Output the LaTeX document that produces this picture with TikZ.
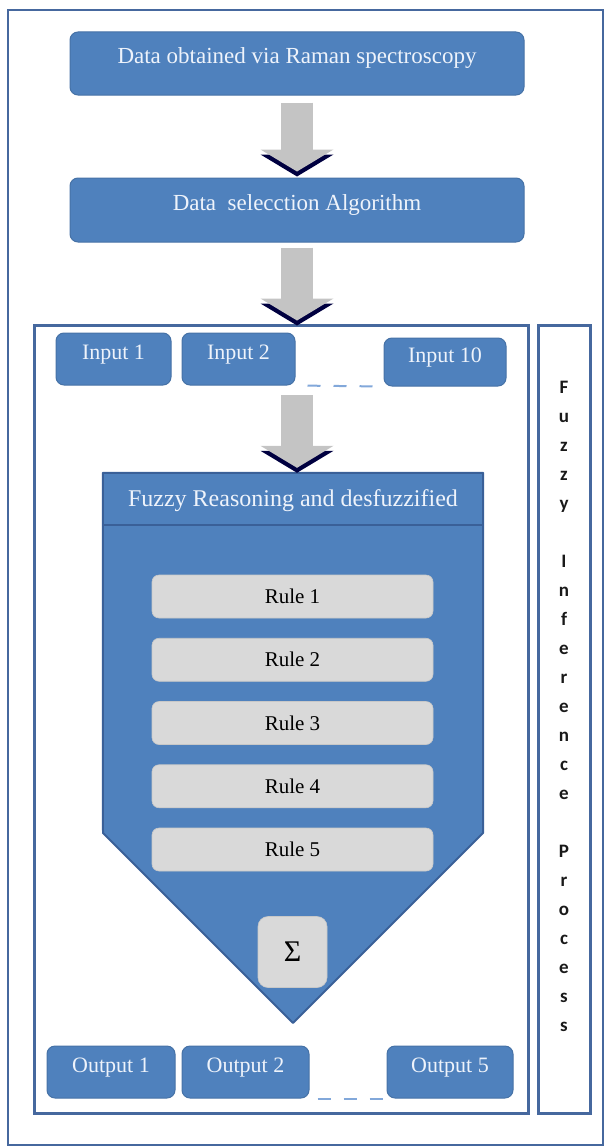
\documentclass[tikz,border=0pt]{standalone}
\usepackage{fontspec}
\setmainfont{Liberation Serif}
\newfontfamily\sidefont{Carlito}
\usetikzlibrary{positioning,arrows.meta}
\definecolor{boxblue}{RGB}{79,129,189}
\definecolor{edgeblue}{RGB}{58,96,152}
\definecolor{frameblue}{RGB}{70,104,158}
\definecolor{rulegray}{RGB}{217,217,217}
\definecolor{arrowgray}{RGB}{196,196,196}
\definecolor{paleblue}{RGB}{238,243,251}
\definecolor{dashblue}{RGB}{130,168,218}

\begin{document}
\begin{tikzpicture}
    [x=1pt,y=-1pt,
     bluebox/.style={draw=boxblue!88!black, line width=1pt, fill=boxblue, rounded corners=8pt, text=paleblue, inner sep=0pt, text height=9pt, text depth=9pt},
     rulebox/.style={draw=rulegray!92!black, line width=0.6pt, fill=rulegray, rounded corners=7pt, minimum width=281pt, minimum height=43pt, inner sep=0pt, font=\fontsize{21}{24}\selectfont},
     framebox/.style={draw=frameblue, line width=3pt, inner sep=0pt},
     dashline/.style={draw=dashblue, line width=2pt, dash pattern=on 13pt off 13pt},
     blockarrow/.style={draw=arrowgray, line width=32pt, -{Triangle[width=73pt,length=22pt,line width=0pt]}},
     arrowshadow/.style={draw=black!75!blue, line width=32pt, -{Triangle[width=73pt,length=22pt,line width=0pt]}}]
  \useasboundingbox (0,0) rectangle (607,1148);

  % frames
  \node[framebox, line width=2.5pt, minimum width=595pt, minimum height=1135pt] (outer) at (305.5,577.5) {};
  \node[framebox, minimum width=494pt, minimum height=788pt] (inner) at (281,719) {};
  \node[framebox, minimum width=52pt, minimum height=788pt] (side) at (564,719) {};

  % top boxes
  \node[bluebox, minimum width=454pt, minimum height=63pt, font=\fontsize{23}{26}\selectfont] (n1) at (297,63.5) {Data obtained via Raman spectroscopy};
  \node[bluebox, minimum width=454pt, minimum height=64pt, font=\fontsize{23}{26}\selectfont] (n2) at (297,210) {Data\ \ selecction Algorithm};

  % inputs
  \node[bluebox, minimum width=115pt, minimum height=52pt, font=\fontsize{22}{24}\selectfont] (in1) at (113.5,359) {Input 1};
  \node[bluebox, minimum width=113pt, minimum height=52pt, font=\fontsize{22}{24}\selectfont] (in2) at (238.5,359) {Input 2};
  \node[bluebox, minimum width=122pt, minimum height=48pt, font=\fontsize{22}{24}\selectfont] (in10) at (445,362) {Input 10};
  \draw[dashline, shorten <=12pt, shorten >=10pt] (in2.south east) -- (in10.south west);

  % fuzzy reasoning block
  \node[minimum width=380pt, minimum height=52pt, inner sep=0pt] (fr) at (293,499) {};
  \draw[draw=edgeblue, line width=2pt, fill=boxblue, line join=round] (fr.north west) -- (fr.north east) -- (483,833) -- (293,1023) -- (103,833) -- cycle;
  \draw[draw=edgeblue, line width=2.5pt] (fr.south west) -- (fr.south east);
  \node[text=paleblue, inner sep=0pt, text depth=2pt, font=\fontsize{24}{26}\selectfont] (frtext) at (fr.center) {Fuzzy Reasoning and desfuzzified};

  \foreach \i in {1,...,5}
    \node[rulebox] (r\i) at (292.5,{596.5+63.25*(\i-1)}) {Rule \i};

  \node[rulebox, minimum width=69pt, minimum height=71pt, rounded corners=10pt, font=\fontsize{30}{32}\selectfont] (sum) at (292.5,952) {Σ};

  % outputs
  \node[bluebox, minimum width=128pt, minimum height=52pt, font=\fontsize{22}{24}\selectfont] (out1) at (111,1072) {Output 1};
  \node[bluebox, minimum width=127pt, minimum height=52pt, font=\fontsize{22}{24}\selectfont] (out2) at (245.5,1072) {Output 2};
  \node[bluebox, minimum width=126pt, minimum height=52pt, font=\fontsize{22}{24}\selectfont] (out5) at (450,1072) {Output 5};
  \draw[dashline, shorten <=8pt, shorten >=3pt] (out2.south east) -- (out5.south west);

  % block arrows
  \coordinate (a3s) at (297,395);
  \foreach \from/\to/\s/\e in {n1.south/n2.north/7pt/6pt, n2.south/{n2.south |- inner.north}/5pt/3pt, a3s/{a3s |- fr.north}/0pt/5pt}
  {
    \draw[arrowshadow, shorten <=\s, shorten >=\e, transform canvas={yshift=-5pt}] (\from) -- (\to);
    \draw[blockarrow, shorten <=\s, shorten >=\e] (\from) -- (\to);
  }

  % side label
  \node[anchor=north, inner sep=0pt, align=center, text=black!90, font=\sidefont\bfseries\fontsize{19}{29}\selectfont] (sidetext) at (564,381)
    {F\\u\\z\\z\\y\\ \\I\\n\\f\\e\\r\\e\\n\\c\\e\\ \\P\\r\\o\\c\\e\\s\\s};
\end{tikzpicture}
\end{document}
